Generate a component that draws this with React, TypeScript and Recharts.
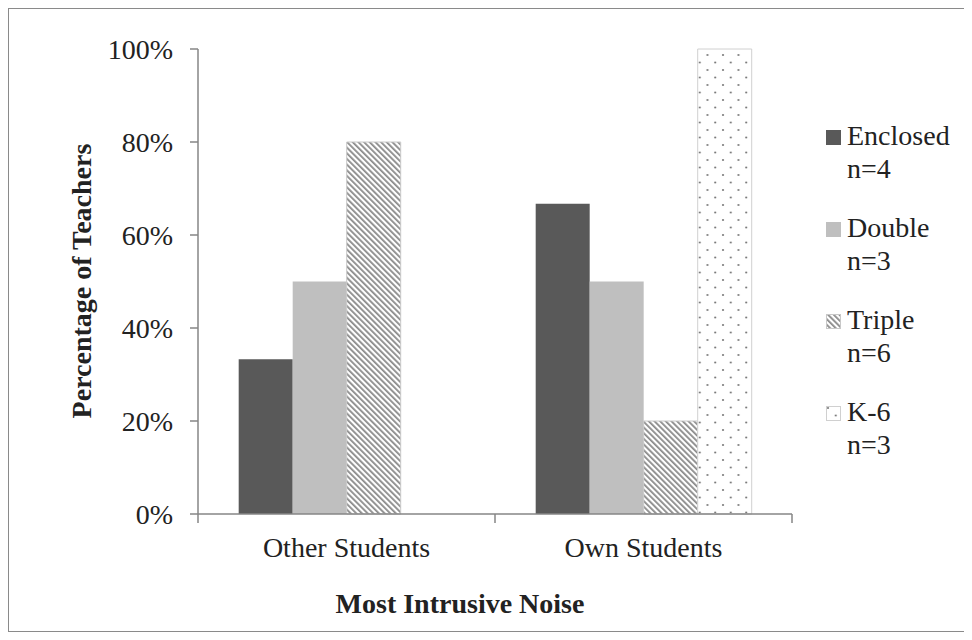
import React from 'react';
import { BarChart, Bar, XAxis, YAxis, Legend } from 'recharts';

const categories = ['Other Students', 'Own Students'];
const enclosedPct = [33.3, 66.7];
const doublePct = [50, 50];
const triplePct = [80, 20];
const k6Pct = [0, 100];
const seriesNames = ['Enclosed', 'Double', 'Triple', 'K-6'];
const seriesCounts = ['n=4', 'n=3', 'n=6', 'n=3'];
const yTicks = [0, 20, 40, 60, 80, 100];

const data = categories.map((c, i) => ({
  category: c,
  Enclosed: enclosedPct[i],
  Double: doublePct[i],
  Triple: triplePct[i],
  'K-6': k6Pct[i],
}));

const FONT = '"Liberation Serif", "Times New Roman", serif';
const W = 956;
const H = 624;
const MARGIN = { top: 41, right: 172, left: 0, bottom: 0 };
const Y_W = 190;
const X_H = 118;
const PLOT_W = W - MARGIN.left - MARGIN.right - Y_W;
const AXIS = '#868686';
const TEXT = '#222';
const fills = ['#595959', '#bfbfbf', 'url(#hatchTriple)', 'url(#dotsK6)'];
const strokes = ['none', 'none', '#c8c8c8', '#d0d0d0'];

const XTick = (props: any) => {
  const { x, y, payload } = props;
  const half = PLOT_W / categories.length / 2;
  const isLast = payload.value === categories[categories.length - 1];
  return (
    <g>
      <line x1={x - half} x2={x - half} y1={y} y2={y + 9} stroke={AXIS} strokeWidth={1.5} />
      {isLast && <line x1={x + half} x2={x + half} y1={y} y2={y + 9} stroke={AXIS} strokeWidth={1.5} />}
      <text x={x} y={y + 43} textAnchor="middle" fontFamily={FONT} fontSize={28} fill={TEXT}>
        {payload.value}
      </text>
    </g>
  );
};

const LegendContent = () => (
  <div style={{ fontFamily: FONT, fontSize: 28, color: TEXT }}>
    {seriesNames.map((n, i) => (
      <div key={n} style={{ position: 'relative', height: 92, paddingLeft: 21 }}>
        <svg width={15} height={15} style={{ position: 'absolute', left: 0, top: 11 }}>
          <rect x={0.5} y={0.5} width={14} height={14} fill={fills[i]} stroke={strokes[i] === 'none' ? fills[i] : strokes[i]} strokeWidth={1} />
        </svg>
        <div style={{ lineHeight: '33px', whiteSpace: 'nowrap' }}>{n}</div>
        <div style={{ lineHeight: '33px', whiteSpace: 'nowrap' }}>{seriesCounts[i]}</div>
      </div>
    ))}
  </div>
);

export default function App() {
  return (
    <div style={{ position: 'relative', width: W, height: H }}>
      <BarChart
        width={W}
        height={H}
        data={data}
        margin={MARGIN}
        barCategoryGap="13.7%"
        barGap={0}
      >
        <defs>
          <pattern id="hatchTriple" patternUnits="userSpaceOnUse" width={4} height={4} patternTransform="rotate(-45)">
            <rect x={0} y={0} width={4} height={4} fill="#ffffff" />
            <rect x={0} y={0} width={1.8} height={4} fill="#8a8a8a" />
          </pattern>
          <pattern id="dotsK6" patternUnits="userSpaceOnUse" width={15.5} height={15}>
            <rect x={0} y={0} width={15.5} height={15} fill="#ffffff" />
            <circle cx={2} cy={2} r={1.1} fill="#7a7a7a" />
            <circle cx={9.75} cy={9.5} r={1.1} fill="#7a7a7a" />
          </pattern>
        </defs>
        <XAxis
          dataKey="category"
          height={X_H}
          axisLine={{ stroke: AXIS, strokeWidth: 1.5 }}
          tickLine={false}
          tickSize={0}
          tickMargin={0}
          tick={<XTick />}
          interval={0}
          label={{
            content: () => (
              <text x={452} y={605} textAnchor="middle" fontFamily={FONT} fontSize={28} fontWeight="bold" fill={TEXT}>
                Most Intrusive Noise
              </text>
            ),
          }}
        />
        <YAxis
          width={Y_W}
          domain={[0, 100]}
          ticks={yTicks}
          interval={0}
          tickFormatter={(v: number) => `${v}%`}
          axisLine={{ stroke: AXIS, strokeWidth: 1.5 }}
          tickLine={{ stroke: AXIS, strokeWidth: 1.5 }}
          tickSize={8}
          tickMargin={17}
          tick={{ fontFamily: FONT, fontSize: 28, fill: TEXT }}
          label={{
            content: () => (
              <text
                x={73}
                y={273}
                transform="rotate(-90 73 273)"
                textAnchor="middle"
                dominantBaseline="central"
                fontFamily={FONT}
                fontSize={28}
                fontWeight="bold"
                fill={TEXT}
              >
                Percentage of Teachers
              </text>
            ),
          }}
        />
        <Legend
          layout="vertical"
          align="center"
          verticalAlign="middle"
          content={<LegendContent />}
          wrapperStyle={{ left: 818, top: 111, width: 150 }}
        />
        {seriesNames.map((n, i) => (
          <Bar
            key={n}
            dataKey={n}
            fill={fills[i]}
            stroke={strokes[i]}
            strokeWidth={1}
            isAnimationActive={false}
          />
        ))}
      </BarChart>
      <div
        style={{
          position: 'absolute',
          left: 0,
          top: 0,
          width: 958,
          height: 624,
          border: '1.5px solid #8a8a8a',
          boxSizing: 'border-box',
          pointerEvents: 'none',
          zIndex: 10,
        }}
      />
    </div>
  );
}
